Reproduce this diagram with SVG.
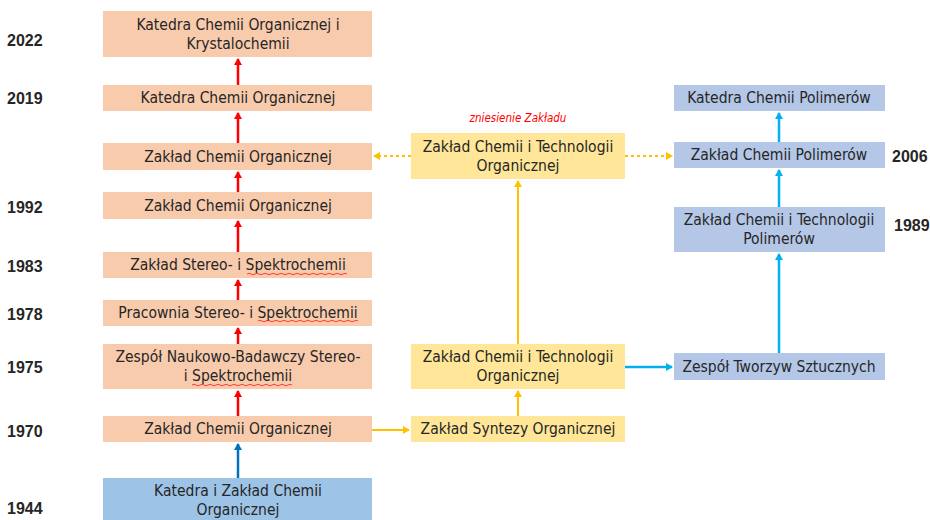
<svg xmlns="http://www.w3.org/2000/svg" width="930" height="520" viewBox="0 0 930 520">
<defs>
<style>
.pe{fill:#F8CBAD}
.ye{fill:#FFE699}
.lv{fill:#B4C7E7}
.bl{fill:#9DC3E6}
text{font-family:"DejaVu Sans Condensed","DejaVu Sans",sans-serif;font-size:15.5px;fill:#262626;text-anchor:middle}
.yr{font-family:"Liberation Sans",Arial,sans-serif;font-weight:bold;font-size:16px;text-anchor:start;fill:#262626}
.note{font-family:"DejaVu Sans Condensed",sans-serif;font-style:italic;font-size:11.5px;fill:#FF0000}
.r{stroke:#FF0000;stroke-width:2.5;fill:none}
.o{stroke:#FFC000;stroke-width:2;fill:none}
.od{stroke:#FFC000;stroke-width:2;fill:none;stroke-dasharray:3 3}
.c{stroke:#00B0F0;stroke-width:2.5;fill:none}
.b{stroke:#0070C0;stroke-width:2.5;fill:none}
.wv{stroke:#FF0000;stroke-width:0.7;fill:none}
</style>
<marker id="mr" markerWidth="8" markerHeight="8" refX="6" refY="4" orient="auto" markerUnits="userSpaceOnUse"><path d="M0,0 L7,4 L0,8 Z" fill="#FF0000"/></marker>
<marker id="mo" markerWidth="8" markerHeight="8" refX="6" refY="4" orient="auto" markerUnits="userSpaceOnUse"><path d="M0,0 L7,4 L0,8 Z" fill="#FFC000"/></marker>
<marker id="mc" markerWidth="8" markerHeight="8" refX="6" refY="4" orient="auto" markerUnits="userSpaceOnUse"><path d="M0,0 L7,4 L0,8 Z" fill="#00B0F0"/></marker>
<marker id="mb" markerWidth="8" markerHeight="8" refX="6" refY="4" orient="auto" markerUnits="userSpaceOnUse"><path d="M0,0 L7,4 L0,8 Z" fill="#0070C0"/></marker>
</defs>
<rect width="930" height="520" fill="#FFFFFF"/>

<g id="years">
<text class="yr" x="7" y="46">2022</text>
<text class="yr" x="7" y="104">2019</text>
<text class="yr" x="7" y="213">1992</text>
<text class="yr" x="7" y="272">1983</text>
<text class="yr" x="7" y="320">1978</text>
<text class="yr" x="7" y="373">1975</text>
<text class="yr" x="7" y="437">1970</text>
<text class="yr" x="7" y="514">1944</text>
<text class="yr" x="892" y="162">2006</text>
<text class="yr" x="894" y="231">1989</text>
</g>

<g id="connectors">
<line class="r" x1="238" y1="85" x2="238" y2="59" marker-end="url(#mr)"/>
<line class="r" x1="238" y1="143" x2="238" y2="113" marker-end="url(#mr)"/>
<line class="r" x1="238" y1="192" x2="238" y2="172" marker-end="url(#mr)"/>
<line class="r" x1="238" y1="252" x2="238" y2="221" marker-end="url(#mr)"/>
<line class="r" x1="238" y1="300" x2="238" y2="280" marker-end="url(#mr)"/>
<line class="r" x1="238" y1="344" x2="238" y2="328" marker-end="url(#mr)"/>
<line class="r" x1="238" y1="416" x2="238" y2="391" marker-end="url(#mr)"/>
<line class="b" x1="238" y1="478" x2="238" y2="444" marker-end="url(#mb)"/>
<line class="o" x1="372" y1="430" x2="409" y2="430" marker-end="url(#mo)"/>
<line class="o" x1="518" y1="416" x2="518" y2="391" marker-end="url(#mo)"/>
<line class="o" x1="518" y1="344" x2="518" y2="181" marker-end="url(#mo)"/>
<line class="od" x1="411" y1="156" x2="374" y2="156" marker-end="url(#mo)"/>
<line class="od" x1="625" y1="156" x2="672" y2="156" marker-end="url(#mo)"/>
<line class="c" x1="625" y1="367" x2="672" y2="367" marker-end="url(#mc)"/>
<line class="c" x1="779" y1="353" x2="779" y2="254" marker-end="url(#mc)"/>
<line class="c" x1="779" y1="207" x2="779" y2="170" marker-end="url(#mc)"/>
<line class="c" x1="779" y1="142" x2="779" y2="113" marker-end="url(#mc)"/>
</g>

<g id="n2022"><rect class="pe" x="103" y="11" width="269" height="46"/><text x="238" y="30">Katedra Chemii Organicznej i</text><text x="238" y="49">Krystalochemii</text></g>
<g id="n2019"><rect class="pe" x="103" y="85" width="269" height="26"/><text x="238" y="103">Katedra Chemii Organicznej</text></g>
<g id="nZCO1"><rect class="pe" x="103" y="143" width="269" height="27"/><text x="238" y="162">Zakład Chemii Organicznej</text></g>
<g id="n1992"><rect class="pe" x="103" y="192" width="269" height="27"/><text x="238" y="211">Zakład Chemii Organicznej</text></g>
<g id="n1983"><rect class="pe" x="103" y="252" width="269" height="26"/><text x="238" y="270">Zakład Stereo- i Spektrochemii</text><path class="wv" d="M247,274 q2,-1.5 4,0 t4,0 t4,0 t4,0 t4,0 t4,0 t4,0 t4,0 t4,0 t4,0 t4,0 t4,0 t4,0 t4,0 t4,0 t4,0 t4,0 t4,0 t4,0 t4,0 t4,0 t4,0 t4,0 t4,0 t4,0"/></g>
<g id="n1978"><rect class="pe" x="103" y="300" width="269" height="26"/><text x="238" y="318">Pracownia Stereo- i Spektrochemii</text><path class="wv" d="M258,321 q2,-1.5 4,0 t4,0 t4,0 t4,0 t4,0 t4,0 t4,0 t4,0 t4,0 t4,0 t4,0 t4,0 t4,0 t4,0 t4,0 t4,0 t4,0 t4,0 t4,0 t4,0 t4,0 t4,0 t4,0 t4,0 t4,0"/></g>
<g id="n1975"><rect class="pe" x="103" y="344" width="269" height="45"/><text x="238" y="362">Zespół Naukowo-Badawczy Stereo-</text><text x="238" y="381">i Spektrochemii</text><path class="wv" d="M192,385 q2,-1.5 4,0 t4,0 t4,0 t4,0 t4,0 t4,0 t4,0 t4,0 t4,0 t4,0 t4,0 t4,0 t4,0 t4,0 t4,0 t4,0 t4,0 t4,0 t4,0 t4,0 t4,0 t4,0 t4,0 t4,0 t4,0"/></g>
<g id="n1970"><rect class="pe" x="103" y="416" width="269" height="26"/><text x="238" y="434">Zakład Chemii Organicznej</text></g>
<g id="n1944"><rect class="bl" x="103" y="478" width="269" height="42"/><text x="238" y="496">Katedra i Zakład Chemii</text><text x="238" y="515">Organicznej</text></g>

<g id="nZCTO2"><rect class="ye" x="411" y="133" width="214" height="46"/><text x="518" y="152">Zakład Chemii i Technologii</text><text x="518" y="171">Organicznej</text></g>
<g id="nZCTO1"><rect class="ye" x="411" y="344" width="214" height="45"/><text x="518" y="362">Zakład Chemii i Technologii</text><text x="518" y="381">Organicznej</text></g>
<g id="nZSO"><rect class="ye" x="411" y="416" width="214" height="26"/><text x="518" y="434">Zakład Syntezy Organicznej</text></g>
<text class="note" x="518" y="122">zniesienie Zakładu</text>

<g id="nKCP"><rect class="lv" x="674" y="85" width="211" height="26"/><text x="779" y="103">Katedra Chemii Polimerów</text></g>
<g id="nZCP"><rect class="lv" x="674" y="142" width="211" height="26"/><text x="779" y="160">Zakład Chemii Polimerów</text></g>
<g id="nZCTP"><rect class="lv" x="674" y="207" width="211" height="45"/><text x="779" y="225">Zakład Chemii i Technologii</text><text x="779" y="244">Polimerów</text></g>
<g id="nZTS"><rect class="lv" x="674" y="353" width="211" height="27"/><text x="779" y="372">Zespół Tworzyw Sztucznych</text></g>
</svg>
